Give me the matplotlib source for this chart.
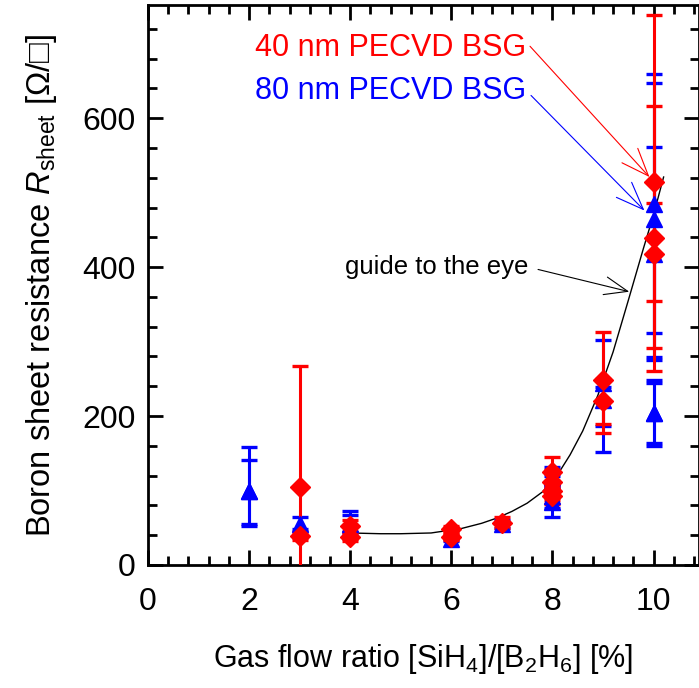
import matplotlib
matplotlib.use("Agg")
import matplotlib.pyplot as plt
import numpy as np

plt.rcParams['font.family'] = ['Liberation Sans', 'DejaVu Sans']
plt.rcParams['mathtext.fontset'] = 'custom'
plt.rcParams['mathtext.rm'] = 'Liberation Sans'
plt.rcParams['mathtext.it'] = 'Liberation Sans:italic'

# ---- data ----
red_x   = [3, 3, 4, 4, 6, 6, 7, 8, 8, 8, 8, 9, 9, 10, 10, 10]
red_y   = [105, 39, 52, 38, 48, 38, 57, 125, 112, 100, 92, 248, 220, 514, 439, 418]
red_lo  = [162, 5, 8, 6, 5, 4, 7, 20, 16, 13, 10, 71, 31, 223, 178, 63]
red_hi  = [162, 5, 8, 6, 5, 4, 7, 20, 16, 13, 10, 65, 30, 224, 178, 68]

blue_x  = [2, 2, 3, 4, 4, 6, 7, 8, 8, 8, 8, 9, 9, 10, 10, 10, 10, 10]
blue_y  = [100, 100, 55, 55, 48, 35, 55, 118, 105, 92, 85, 245, 222, 485, 465, 418, 204, 204]
blue_lo = [48, 45, 7, 14, 12, 3, 5, 13, 14, 15, 20, 59, 70, 174, 186, 143, 44, 40]
blue_hi = [58, 41, 9, 17, 19, 3, 5, 13, 14, 15, 18, 57, 17, 175, 182, 143, 44, 40]

guide_x = [4.0, 4.6, 5.0, 5.6, 6.2, 6.6, 6.9, 7.2, 7.5, 7.8, 8.1, 8.35, 8.6, 8.9, 9.2, 9.5, 9.8, 10.0, 10.2]
guide_y = [43, 42, 42, 43, 49, 56, 63, 72, 83, 98, 121, 148, 180, 228, 286, 355, 425, 470, 521]

RED = '#ff0000'
BLUE = '#0000ff'

fig = plt.figure(figsize=(6.99, 6.88), dpi=100)
ax = fig.add_axes([148/699, 1-565/688, 1-148/699, (565-5)/688])

ax.plot(guide_x, guide_y, color='black', lw=1.0, zorder=2)

eb_kw = dict(fmt='none', elinewidth=2.2, capsize=6, capthick=2.4)
ax.errorbar(blue_x, blue_y, yerr=[blue_lo, blue_hi], ecolor=BLUE, zorder=3, **eb_kw)
ax.errorbar(red_x, red_y, yerr=[red_lo, red_hi], ecolor=RED, zorder=4, **eb_kw)
ax.plot(blue_x, blue_y, linestyle='none', marker='^', ms=11, color=BLUE, zorder=5)
ax.plot(red_x, red_y, linestyle='none', marker='D', ms=10.5, color=RED, zorder=6)

ax.set_xlim(0, 10.9)
ax.set_ylim(0, 752)
ax.set_xticks([0, 2, 4, 6, 8, 10])
ax.set_xticks(np.arange(0, 10.9, 0.4), minor=True)
ax.set_yticks([0, 200, 400, 600])
ax.set_yticks(np.arange(0, 752, 40), minor=True)
ax.tick_params(which='both', direction='in', top=True, right=True, width=2.0, labelsize=23)
ax.tick_params(which='major', length=11)
ax.tick_params(axis='x', which='major', pad=16)
ax.tick_params(axis='y', which='major', pad=9)
ax.tick_params(which='minor', length=6.5)
for s in ax.spines.values():
    s.set_linewidth(2.0)

ax.set_xlabel('Gas flow ratio [SiH$_4$]/[B$_2$H$_6$] [%]', fontsize=22, labelpad=18)
ax.set_ylabel('Boron sheet resistance $R_{\\mathrm{sheet}}$ [Ω/□]', fontsize=23.5, labelpad=17)

ax.annotate('40 nm PECVD BSG', xy=(9.92, 521), xytext=(2.12, 694), color=RED, fontsize=22,
            va='center', ha='left',
            arrowprops=dict(arrowstyle='->,head_length=0.9,head_width=0.35', color=RED, lw=0.8,
                            shrinkA=1, shrinkB=0, relpos=(1.0, 0.7)))
ax.annotate('80 nm PECVD BSG', xy=(9.82, 476), xytext=(2.12, 637), color=BLUE, fontsize=22,
            va='center', ha='left',
            arrowprops=dict(arrowstyle='->,head_length=0.9,head_width=0.35', color=BLUE, lw=0.8,
                            shrinkA=2, shrinkB=0, relpos=(1.0, 0.5)))
ax.annotate('guide to the eye', xy=(9.52, 367), xytext=(3.9, 400), color='black', fontsize=18.5,
            va='center', ha='left',
            arrowprops=dict(arrowstyle='->,head_length=0.9,head_width=0.35', color='black', lw=0.8,
                            shrinkA=5, shrinkB=0, relpos=(1.0, 0.5)))

fig.savefig('out.png', dpi=100)
